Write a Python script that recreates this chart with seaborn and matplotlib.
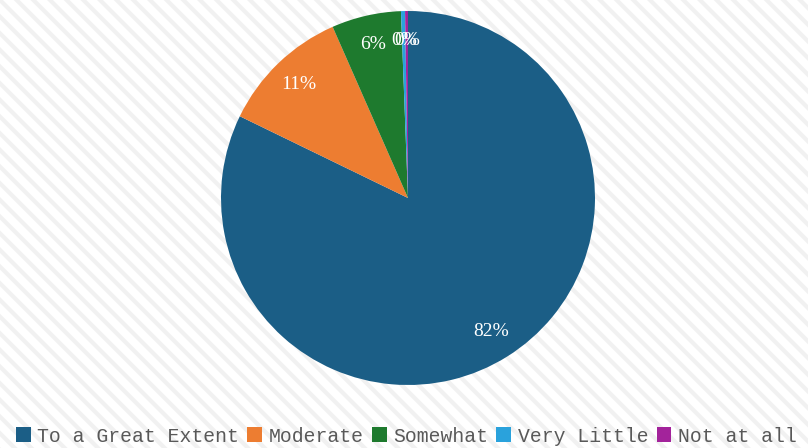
import matplotlib
matplotlib.use("Agg")
import matplotlib.pyplot as plt
import seaborn as sns

categories = ['To a Great Extent', 'Moderate', 'Somewhat', 'Very Little', 'Not at all']
shares = [82.2, 11.2, 6.0, 0.35, 0.25]
colors = ['#1b5e86', '#ed7d31', '#1e7a2e', '#2aa2dc', '#a3239b']

sns.set_theme(style="white")
plt.rcParams['hatch.linewidth'] = 3.0

fig = plt.figure(figsize=(8.08, 4.48), dpi=100)

# striped background
bg = fig.add_axes([0, 0, 1, 1])
bg.add_patch(plt.Rectangle((0, 0), 1, 1, facecolor='white', edgecolor='#f1f1f1',
                           linewidth=0, hatch='\\\\'))
bg.set_xlim(0, 1)
bg.set_ylim(0, 1)
bg.axis('off')

cx, cy, r = 408, 198, 187
W, H = 808, 448
ax = fig.add_axes([(cx - r) / W, (H - cy - r) / H, 2 * r / W, 2 * r / H])
wedges, texts, autotexts = ax.pie(shares, colors=colors, startangle=90, counterclock=False,
                                  autopct='%1.0f%%', pctdistance=0.84,
                                  wedgeprops=dict(linewidth=0),
                                  textprops=dict(color='white', fontsize=14, family='Liberation Serif'))
ax.set_xlim(-1, 1)
ax.set_ylim(-1, 1)
ax.set_aspect('equal')

fig.legend(wedges, categories, loc='center', bbox_to_anchor=(0.503, 1 - 436 / H), ncol=5,
           frameon=False, handlelength=0.75, handleheight=0.75, handletextpad=0.35,
           columnspacing=0.4, prop=dict(family='Liberation Mono', size=14.2),
           labelcolor='#595959')

fig.savefig('out.png', dpi=100)
